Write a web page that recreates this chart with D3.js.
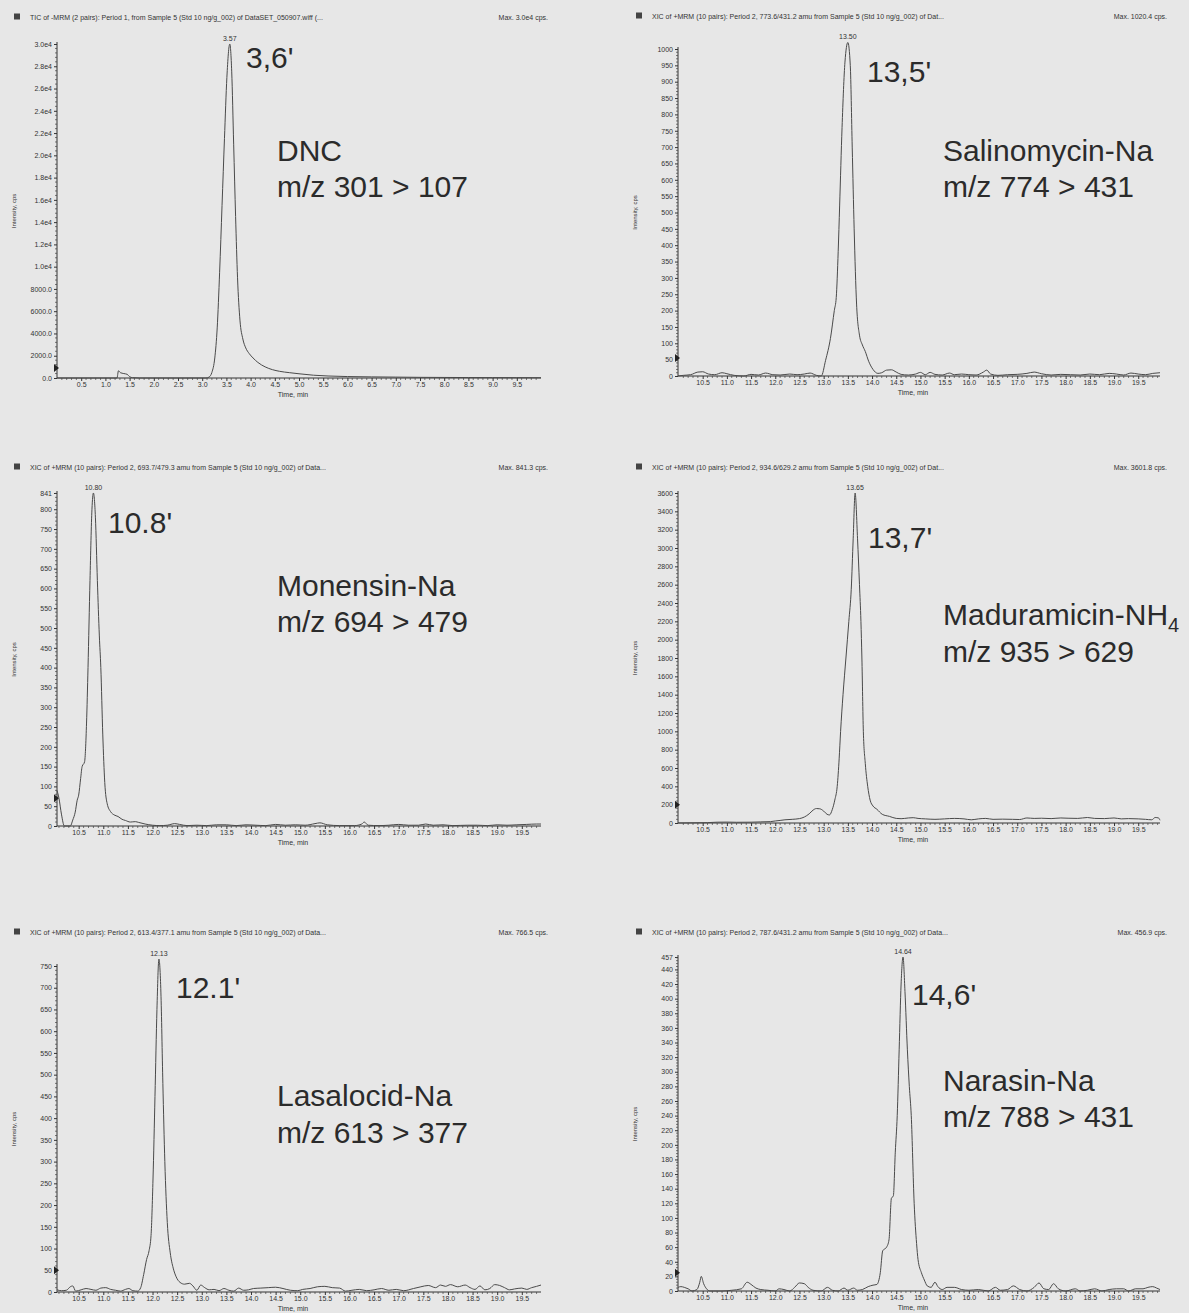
<!DOCTYPE html>
<html>
<head>
<meta charset="utf-8">
<script src="https://cdn.jsdelivr.net/npm/d3@7"></script>
<style>
  html, body { margin: 0; padding: 0; background: #e7e7e7; }
  svg { display: block; font-family: "Liberation Sans", Arial, sans-serif; }
</style>
</head>
<body>
<svg id="chart" width="1189" height="1313"></svg>
<script>
// ---- chart values ----
const headers = [
  "TIC of -MRM (2 pairs): Period 1, from Sample 5 (Std 10 ng/g_002) of DataSET_050907.wiff (...",
  "XIC of +MRM (10 pairs): Period 2, 773.6/431.2 amu from Sample 5 (Std 10 ng/g_002) of Dat...",
  "XIC of +MRM (10 pairs): Period 2, 693.7/479.3 amu from Sample 5 (Std 10 ng/g_002) of Data...",
  "XIC of +MRM (10 pairs): Period 2, 934.6/629.2 amu from Sample 5 (Std 10 ng/g_002) of Dat...",
  "XIC of +MRM (10 pairs): Period 2, 613.4/377.1 amu from Sample 5 (Std 10 ng/g_002) of Data...",
  "XIC of +MRM (10 pairs): Period 2, 787.6/431.2 amu from Sample 5 (Std 10 ng/g_002) of Data..."
];
const maxLabels = ["Max. 3.0e4 cps.", "Max. 1020.4 cps.", "Max. 841.3 cps.", "Max. 3601.8 cps.", "Max. 766.5 cps.", "Max. 456.9 cps."];
const compounds = ["DNC", "Salinomycin-Na", "Monensin-Na", "Maduramicin-NH", "Lasalocid-Na", "Narasin-Na"];
const compoundSubs = ["", "", "", "4", "", ""];
const transitions = ["m/z 301 > 107", "m/z 774 > 431", "m/z 694 > 479", "m/z 935 > 629", "m/z 613 > 377", "m/z 788 > 431"];
const rtNotes = ["3,6'", "13,5'", "10.8'", "13,7'", "12.1'", "14,6'"];
const apexTimes = [3.57, 13.50, 10.80, 13.65, 12.13, 14.64];
const timeWindows = [[0, 10], [9.99, 19.95], [10.06, 19.89], [9.99, 19.95], [10.06, 19.89], [9.99, 19.95]];
const markerLevels = [900, 55, 70, 200, 50, 25];

const period1XTicks = [0.5, 1.0, 1.5, 2.0, 2.5, 3.0, 3.5, 4.0, 4.5, 5.0, 5.5, 6.0, 6.5, 7.0, 7.5, 8.0, 8.5, 9.0, 9.5];
const period2XTicks = [10.5, 11.0, 11.5, 12.0, 12.5, 13.0, 13.5, 14.0, 14.5, 15.0, 15.5, 16.0, 16.5, 17.0, 17.5, 18.0, 18.5, 19.0, 19.5];

const dncYTicks = [0, 2000, 4000, 6000, 8000, 10000, 12000, 14000, 16000, 18000, 20000, 22000, 24000, 26000, 28000, 30000];
const salinomycinYTicks = [0, 50, 100, 150, 200, 250, 300, 350, 400, 450, 500, 550, 600, 650, 700, 750, 800, 850, 900, 950, 1000];
const monensinYTicks = [0, 50, 100, 150, 200, 250, 300, 350, 400, 450, 500, 550, 600, 650, 700, 750, 800, 841];
const maduramicinYTicks = [0, 200, 400, 600, 800, 1000, 1200, 1400, 1600, 1800, 2000, 2200, 2400, 2600, 2800, 3000, 3200, 3400, 3600];
const lasalocidYTicks = [0, 50, 100, 150, 200, 250, 300, 350, 400, 450, 500, 550, 600, 650, 700, 750];
const narasinYTicks = [0, 20, 40, 60, 80, 100, 120, 140, 160, 180, 200, 220, 240, 260, 280, 300, 320, 340, 360, 380, 400, 420, 440, 457];

// [time (min), intensity (cps)]
const dncTrace = [[0,0],[1.24,0],[1.27,650],[1.31,480],[1.38,400],[1.45,330],[1.5,120],[1.56,30],[1.7,0],[3.08,0],[3.14,80],
  [3.2,500],[3.26,1800],[3.31,4500],[3.36,9500],[3.41,15500],[3.46,21500],[3.51,27000],[3.57,30000],[3.61,27500],[3.65,21000],
  [3.69,14500],[3.73,9000],[3.78,5200],[3.84,3500],[3.9,2700],[3.97,2200],[4.05,1800],[4.15,1400],[4.3,1000],[4.45,750],
  [4.6,600],[4.8,480],[5.0,380],[5.3,250],[5.6,180],[6.0,130],[6.5,100],[7.0,80],[7.5,60],[8.0,50],[8.5,40],[9.0,35],[9.5,30],[10.0,25]];

const salinomycinTrace = [[9.99,0],[10.1,2],[10.25,4],[10.4,12],[10.5,13],[10.62,6],[10.75,4],[10.9,10],[11.0,7],[11.15,2],
  [11.35,0],[11.5,5],[11.65,3],[11.8,9],[11.95,4],[12.1,3],[12.3,6],[12.45,4],[12.6,6],[12.72,9],[12.85,2],[12.95,0],
  [13.04,48],[13.14,115],[13.22,200],[13.26,240],[13.3,380],[13.33,520],[13.38,760],[13.44,960],[13.5,1020],[13.55,950],
  [13.59,700],[13.63,450],[13.68,220],[13.74,125],[13.8,95],[13.86,75],[13.93,45],[14.02,20],[14.12,8],[14.2,10],[14.3,18],
  [14.4,19],[14.5,12],[14.6,5],[14.75,3],[14.9,6],[15.0,11],[15.1,4],[15.2,11],[15.3,5],[15.45,3],[15.6,9],[15.7,4],[15.85,6],
  [16.0,4],[16.15,3],[16.3,12],[16.37,18],[16.45,6],[16.6,2],[16.8,4],[17.0,5],[17.2,8],[17.35,12],[17.5,7],[17.7,3],[17.9,5],
  [18.1,4],[18.3,3],[18.5,6],[18.7,4],[18.9,8],[19.05,6],[19.2,3],[19.35,9],[19.5,6],[19.65,4],[19.8,8],[19.95,10]];

const monensinTrace = [[10.06,90],[10.1,70],[10.15,30],[10.21,0],[10.33,0],[10.38,15],[10.43,35],[10.47,65],[10.5,78],
  [10.54,120],[10.57,150],[10.62,162],[10.66,260],[10.69,400],[10.73,620],[10.77,800],[10.8,841],[10.84,780],[10.88,620],
  [10.92,480],[10.95,400],[10.99,230],[11.03,110],[11.08,56],[11.15,36],[11.22,28],[11.3,24],[11.38,17],[11.45,14],[11.55,10],
  [11.65,11],[11.72,9],[11.85,5],[12.0,2],[12.15,1],[12.3,2],[12.45,6],[12.55,4],[12.7,1],[12.9,2],[13.1,1],[13.3,3],[13.5,3],
  [13.7,1],[13.9,3],[14.1,2],[14.3,1],[14.5,4],[14.7,2],[14.9,3],[15.1,2],[15.3,6],[15.4,8],[15.55,3],[15.8,1],[16.1,1],
  [16.25,5],[16.3,10],[16.38,2],[16.6,1],[16.8,2],[17.0,4],[17.2,2],[17.4,2],[17.55,5],[17.7,2],[17.9,3],[18.1,1],[18.4,2],
  [18.6,2],[18.8,1],[19.0,3],[19.2,2],[19.4,3],[19.6,4],[19.8,5],[19.89,5]];

const maduramicinTrace = [[9.99,0],[10.3,2],[10.6,4],[10.8,9],[11.0,10],[11.2,8],[11.5,9],[11.7,12],[11.9,15],[12.0,22],
  [12.1,28],[12.2,35],[12.35,40],[12.5,48],[12.6,65],[12.7,100],[12.78,140],[12.85,158],[12.92,155],[13.0,130],[13.07,95],
  [13.12,88],[13.18,150],[13.23,250],[13.28,400],[13.32,700],[13.35,1000],[13.4,1400],[13.46,1800],[13.52,2200],[13.57,2550],
  [13.61,3100],[13.65,3600],[13.7,3100],[13.74,2600],[13.77,2200],[13.79,1800],[13.82,1000],[13.86,650],[13.91,400],
  [13.96,250],[14.02,185],[14.1,150],[14.21,95],[14.36,72],[14.5,50],[14.6,47],[14.75,55],[14.85,58],[14.95,50],[15.1,45],
  [15.3,40],[15.5,45],[15.7,50],[15.9,45],[16.05,35],[16.2,45],[16.35,50],[16.5,40],[16.7,42],[16.9,40],[17.05,38],[17.2,55],
  [17.35,50],[17.5,52],[17.7,48],[17.9,55],[18.05,52],[18.25,50],[18.45,60],[18.6,50],[18.8,48],[19.0,55],[19.15,45],
  [19.3,48],[19.5,45],[19.65,40],[19.78,35],[19.85,60],[19.92,55],[19.95,30]];

const lasalocidTrace = [[10.06,5],[10.15,3],[10.25,4],[10.33,12],[10.38,14],[10.44,2],[10.55,5],[10.65,8],[10.75,6],[10.85,4],
  [10.95,9],[11.05,10],[11.15,6],[11.25,4],[11.35,2],[11.45,6],[11.52,8],[11.6,3],[11.7,2],[11.76,10],[11.82,40],[11.88,75],
  [11.93,95],[11.97,130],[12.01,260],[12.05,450],[12.09,650],[12.13,766],[12.17,690],[12.21,480],[12.25,300],[12.3,160],
  [12.36,90],[12.42,55],[12.48,35],[12.56,22],[12.65,18],[12.75,20],[12.82,14],[12.9,4],[12.98,16],[13.06,10],[13.15,5],
  [13.25,6],[13.35,3],[13.45,8],[13.55,4],[13.65,2],[13.75,9],[13.85,4],[13.95,5],[14.05,8],[14.2,9],[14.35,10],[14.5,11],
  [14.65,8],[14.8,4],[14.95,3],[15.05,6],[15.2,8],[15.35,12],[15.5,13],[15.65,10],[15.8,9],[15.92,2],[16.05,4],[16.2,6],
  [16.35,3],[16.5,5],[16.65,8],[16.8,4],[16.95,6],[17.1,3],[17.3,8],[17.45,12],[17.6,15],[17.75,10],[17.85,16],[17.95,13],
  [18.05,17],[18.2,12],[18.35,16],[18.45,10],[18.55,6],[18.65,14],[18.75,5],[18.85,8],[18.95,17],[19.05,15],[19.15,10],
  [19.25,5],[19.35,7],[19.5,9],[19.6,6],[19.7,10],[19.8,13],[19.89,16]];

const narasinTrace = [[9.99,5],[10.05,6],[10.12,5],[10.2,3],[10.28,0],[10.38,2],[10.44,12],[10.47,20],[10.52,10],[10.58,3],
  [10.65,0],[10.9,0],[11.1,1],[11.3,3],[11.42,12],[11.5,9],[11.6,4],[11.7,2],[11.85,1],[12.0,0],[12.08,3],[12.18,2],[12.3,0],
  [12.4,5],[12.5,11],[12.6,10],[12.68,5],[12.78,1],[12.95,0],[13.08,5],[13.18,1],[13.3,0],[13.42,4],[13.5,1],[13.62,4],
  [13.7,1],[13.8,2],[13.92,6],[14.02,8],[14.1,9],[14.17,25],[14.22,55],[14.3,60],[14.35,70],[14.4,127],[14.44,130],
  [14.48,190],[14.52,240],[14.56,330],[14.6,420],[14.64,457],[14.68,410],[14.73,330],[14.77,280],[14.81,240],[14.87,120],
  [14.92,65],[14.95,43],[15.02,25],[15.08,15],[15.14,7],[15.22,5],[15.3,12],[15.36,6],[15.45,2],[15.55,5],[15.7,5],[15.85,2],
  [16.0,1],[16.2,2],[16.4,0],[16.55,5],[16.65,1],[16.8,2],[16.92,7],[17.05,2],[17.2,0],[17.35,5],[17.45,11],[17.55,3],
  [17.65,2],[17.75,10],[17.85,3],[18.0,0],[18.2,3],[18.3,0],[18.45,1],[18.6,3],[18.75,0],[18.9,2],[19.05,3],[19.2,3],[19.3,0],
  [19.45,3],[19.6,3],[19.7,5],[19.8,6],[19.88,4],[19.95,2]];

const traces = [dncTrace, salinomycinTrace, monensinTrace, maduramicinTrace, lasalocidTrace, narasinTrace];
const yTickSets = [dncYTicks, salinomycinYTicks, monensinYTicks, maduramicinYTicks, lasalocidYTicks, narasinYTicks];
const xTickSets = [period1XTicks, period2XTicks, period2XTicks, period2XTicks, period2XTicks, period2XTicks];

// ---- page layout (pixels) ----
const frames = [
  { x0: 57,  x1: 541,  yB: 378,  yT: 44,  head: 17,  rt: [246, 68],   name: [277, 161],  mz: 197 },
  { x0: 678, x1: 1160, yB: 376,  yT: 49,  head: 16,  rt: [867, 82],   name: [943, 161],  mz: 197 },
  { x0: 57,  x1: 541,  yB: 826,  yT: 493, head: 467, rt: [108, 533],  name: [277, 596],  mz: 632 },
  { x0: 678, x1: 1160, yB: 823,  yT: 493, head: 467, rt: [868, 548],  name: [943, 625],  mz: 662 },
  { x0: 57,  x1: 541,  yB: 1292, yT: 966, head: 932, rt: [176, 998],  name: [277, 1106], mz: 1143 },
  { x0: 678, x1: 1160, yB: 1291, yT: 957, head: 932, rt: [912, 1005], name: [943, 1091], mz: 1127 }
];

const ink = "#2b2b2b";
const svg = d3.select("#chart");
svg.append("rect").attr("width", 1189).attr("height", 1313).attr("fill", "#e7e7e7");

function fmtDnc(v) {
  return v >= 10000 ? (v / 10000).toFixed(1) + "e4" : v.toFixed(1);
}

frames.forEach((f, i) => {
  const g = svg.append("g");
  const yTicks = yTickSets[i];
  const yTop = yTicks[yTicks.length - 1];
  const x = d3.scaleLinear().domain(timeWindows[i]).range([f.x0, f.x1]);
  const y = d3.scaleLinear().domain([0, yTop]).range([f.yB, f.yT]);
  const leftSide = f.x0 < 300;

  // header line
  const hx = leftSide ? 14 : 636;
  g.append("rect").attr("x", hx).attr("y", f.head - 3.5).attr("width", 6).attr("height", 6).attr("fill", "#444");
  g.append("text").attr("x", hx + 16).attr("y", f.head + 2.5).attr("font-size", 7).attr("fill", "#333").text(headers[i]);
  g.append("text").attr("x", leftSide ? 548 : 1167).attr("y", f.head + 2.5).attr("font-size", 7)
    .attr("text-anchor", "end").attr("fill", "#333").text(maxLabels[i]);

  // y axis with minor ticks
  const yAxis = d3.axisLeft(y).tickValues(yTicks).tickSize(3).tickPadding(2)
    .tickFormat(i === 0 ? fmtDnc : d => String(d));
  const ya = g.append("g").attr("transform", `translate(${f.x0},0)`).call(yAxis);
  const minorY = [];
  for (let k = 0; k < yTicks.length - 1; k++) {
    const step = (yTicks[1] - yTicks[0]) / 5;
    for (let v = yTicks[k] + step; v < yTicks[k + 1] - 1e-9; v += step) minorY.push(v);
  }
  g.selectAll(null).data(minorY).enter().append("line")
    .attr("x1", f.x0 - 2).attr("x2", f.x0).attr("y1", d => y(d)).attr("y2", d => y(d))
    .attr("stroke", "#444").attr("stroke-width", 0.7);

  // x axis with minor ticks
  const xAxis = d3.axisBottom(x).tickValues(xTickSets[i]).tickSize(3).tickPadding(1)
    .tickFormat(d => d.toFixed(1));
  const xa = g.append("g").attr("transform", `translate(0,${f.yB})`).call(xAxis);
  const minorX = [];
  const t0 = Math.ceil(timeWindows[i][0] * 10 + 1e-6), t1 = Math.floor(timeWindows[i][1] * 10 - 1e-6);
  for (let k = t0; k <= t1; k++) if (k % 5 !== 0) minorX.push(k / 10);
  g.selectAll(null).data(minorX).enter().append("line")
    .attr("x1", d => x(d)).attr("x2", d => x(d)).attr("y1", f.yB).attr("y2", f.yB + 2)
    .attr("stroke", "#444").attr("stroke-width", 0.7);

  [ya, xa].forEach(a => {
    a.select(".domain").attr("stroke", "#333").attr("stroke-width", 1);
    a.selectAll(".tick line").attr("stroke", "#333");
    a.selectAll(".tick text").attr("font-size", 7).attr("fill", "#333")
      .attr("font-family", "Liberation Sans, Arial, sans-serif");
  });
  ya.select(".domain").attr("d", `M0,${f.yB}V${f.yT - 2}`);
  xa.select(".domain").attr("d", `M${f.x0},0H${f.x1}`);

  // axis titles
  g.append("text").attr("x", (f.x0 + f.x1) / 2 - 6).attr("y", f.yB + 19).attr("font-size", 7)
    .attr("text-anchor", "middle").attr("fill", "#333").text("Time, min");
  const ylx = leftSide ? 16 : 637;
  g.append("text").attr("transform", `translate(${ylx},${(f.yB + f.yT) / 2}) rotate(-90)`)
    .attr("font-size", 6).attr("text-anchor", "middle").attr("fill", "#333").text("Intensity, cps");

  // threshold marker on the y axis
  const my = y(markerLevels[i]);
  g.append("path").attr("d", `M${f.x0 - 3},${my - 4}L${f.x0 + 2},${my}L${f.x0 - 3},${my + 4}Z`).attr("fill", "#222");

  // chromatogram trace
  const line = d3.line().x(d => x(d[0])).y(d => y(d[1])).curve(d3.curveMonotoneX);
  g.append("path").datum(traces[i]).attr("d", line)
    .attr("fill", "none").attr("stroke", "#4a4a4a").attr("stroke-width", 1);

  // apex label
  const apex = d3.greatest(traces[i], d => d[1]);
  g.append("text").attr("x", x(apexTimes[i])).attr("y", y(apex[1]) - 3).attr("font-size", 7)
    .attr("text-anchor", "middle").attr("fill", "#333").text(apexTimes[i].toFixed(2));

  // large annotations
  g.append("text").attr("x", f.rt[0]).attr("y", f.rt[1]).attr("font-size", 30).attr("fill", ink).text(rtNotes[i]);
  const nm = g.append("text").attr("x", f.name[0]).attr("y", f.name[1]).attr("font-size", 30).attr("fill", ink).text(compounds[i]);
  if (compoundSubs[i]) nm.append("tspan").attr("font-size", 20).attr("dy", 7).text(compoundSubs[i]);
  g.append("text").attr("x", f.name[0]).attr("y", f.mz).attr("font-size", 30).attr("fill", ink).text(transitions[i]);
});
</script>
</body>
</html>
